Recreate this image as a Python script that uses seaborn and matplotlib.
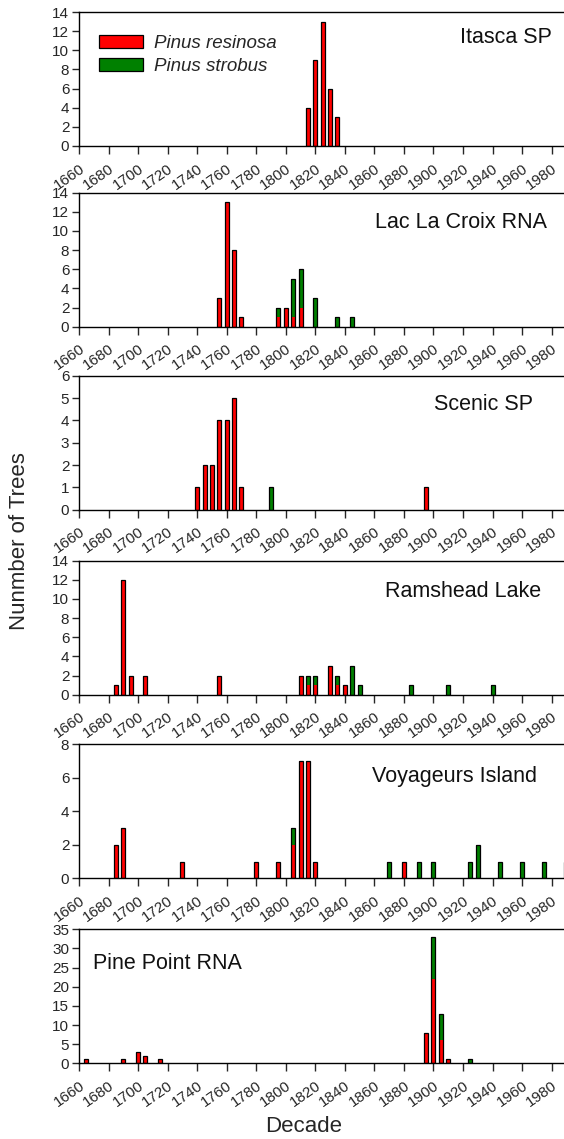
import numpy as np
import pandas as pd
import matplotlib
matplotlib.use("Agg")
import matplotlib.pyplot as plt
import matplotlib.transforms as mtransforms
import seaborn as sns
from matplotlib.patches import Patch

# data: 5-year bins, counts of trees per species
SITES = ["Itasca SP", "Lac La Croix RNA", "Scenic SP", "Ramshead Lake",
         "Voyageurs Island", "Pine Point RNA"]

itasca_years = [1815, 1820, 1825, 1830, 1835]
itasca_res = [4, 9, 13, 6, 3]
itasca_str = [0, 0, 0, 0, 0]

lacroix_years = [1755, 1760, 1765, 1770, 1795, 1800, 1805, 1810, 1820, 1835, 1845]
lacroix_res = [3, 13, 8, 1, 1, 2, 1, 2, 0, 0, 0]
lacroix_str = [0, 0, 0, 0, 1, 0, 4, 4, 3, 1, 1]

scenic_years = [1740, 1745, 1750, 1755, 1760, 1765, 1770, 1790, 1895]
scenic_res = [1, 2, 2, 4, 4, 5, 1, 0, 1]
scenic_str = [0, 0, 0, 0, 0, 0, 0, 1, 0]

ramshead_years = [1685, 1690, 1695, 1705, 1755, 1810, 1815, 1820, 1830, 1835,
                  1840, 1845, 1850, 1885, 1910, 1940]
ramshead_res = [1, 12, 2, 2, 2, 2, 1, 1, 3, 1, 1, 0, 0, 0, 0, 0]
ramshead_str = [0, 0, 0, 0, 0, 0, 1, 1, 0, 1, 0, 3, 1, 1, 1, 1]

voyageurs_years = [1685, 1690, 1730, 1780, 1795, 1805, 1810, 1815, 1820, 1870,
                   1880, 1890, 1900, 1925, 1930, 1945, 1960, 1975, 1990]
voyageurs_res = [2, 3, 1, 1, 1, 2, 7, 7, 1, 0, 1, 0, 0, 0, 0, 0, 0, 0, 0]
voyageurs_str = [0, 0, 0, 0, 0, 1, 0, 0, 0, 1, 0, 1, 1, 1, 2, 1, 1, 1, 1]

pine_years = [1665, 1690, 1700, 1705, 1715, 1895, 1900, 1905, 1910, 1925]
pine_res = [1, 1, 3, 2, 1, 8, 22, 6, 1, 0]
pine_str = [0, 0, 0, 0, 0, 0, 11, 7, 0, 1]

YMAX = [14, 14, 6, 14, 8, 35]
YSTEP = [2, 2, 1, 2, 2, 5]
XTICKS = list(range(1660, 1981, 20))

panels = [
    (itasca_years, itasca_res, itasca_str),
    (lacroix_years, lacroix_res, lacroix_str),
    (scenic_years, scenic_res, scenic_str),
    (ramshead_years, ramshead_res, ramshead_str),
    (voyageurs_years, voyageurs_res, voyageurs_str),
    (pine_years, pine_res, pine_str),
]

RED = "#ff0000"
GREEN = "#008000"

sns.set_style("ticks")
plt.rcParams["font.family"] = ["Liberation Sans", "DejaVu Sans"]

W, H = 564, 1139
fig = plt.figure(figsize=(W / 100, H / 100), dpi=100)

tops = [12, 192.7, 375.7, 560.7, 744.3, 929.3]
ax_h = 134
ax_left = 79
px_per_year = 1.477
ax_w = (1990 - 1660) * px_per_year
bins = [float(b) for b in np.arange(1657.5, 1995, 5)]

# label placement (axes fraction), x anchor and alignment
title_pos = [(0.970, 0.813, "right"), (0.960, 0.776, "right"), (0.931, 0.784, "right"),
             (0.949, 0.769, "right"), (0.940, 0.761, "right"), (0.029, 0.746, "left")]

shift = mtransforms.ScaledTranslation(4 / 100, 0, fig.dpi_scale_trans)

for i, (years, res, strb) in enumerate(panels):
    ax = fig.add_axes([ax_left / W, 1 - (tops[i] + ax_h) / H, ax_w / W, ax_h / H])
    df = pd.DataFrame({"year": years, "res": res, "str": strb})
    df["total"] = df["res"] + df["str"]

    # total (green) under, red overlaid, then outline on top
    sns.histplot(data=df, x="year", weights="total", bins=bins, shrink=0.54,
                 color=GREEN, alpha=1, linewidth=0, ax=ax)
    sns.histplot(data=df, x="year", weights="res", bins=bins, shrink=0.54,
                 color=RED, alpha=1, linewidth=0, ax=ax)
    sns.histplot(data=df, x="year", weights="total", bins=bins, shrink=0.54,
                 fill=False, element="bars", color="black", linewidth=0.9, ax=ax)
    # empty bins leave flat rectangles on the baseline
    for p in list(ax.patches):
        if p.get_height() == 0:
            p.remove()

    ax.set_xlim(1660, 1990)
    ax.set_ylim(0, YMAX[i])
    ax.set_yticks(np.arange(0, YMAX[i] + 0.1, YSTEP[i]))
    ax.set_xticks(XTICKS)
    ax.set_xticklabels([str(t) for t in XTICKS], rotation=35, ha="right",
                       va="top", rotation_mode="anchor", fontsize=11)
    for lab in ax.get_xticklabels():
        lab.set_transform(lab.get_transform() + shift)
    ax.tick_params(axis="y", labelsize=11, length=5, width=1, direction="out", pad=2)
    ax.tick_params(axis="x", length=6, width=1, direction="out", pad=5)
    ax.set_xlabel("")
    ax.set_ylabel("")
    for s in ["left", "bottom", "top"]:
        ax.spines[s].set_visible(True)
        ax.spines[s].set_color("black")
        ax.spines[s].set_linewidth(1)
    ax.spines["right"].set_visible(False)

    tx, ty, ha = title_pos[i]
    ax.text(tx, ty, SITES[i], transform=ax.transAxes, ha=ha, va="center",
            fontsize=15.5, color="#111111")

    if i == 0:
        handles = [Patch(facecolor=RED, edgecolor="black", linewidth=0.9),
                   Patch(facecolor=GREEN, edgecolor="black", linewidth=0.9)]
        ax.legend(handles, ["Pinus resinosa", "Pinus strobus"], loc="upper left",
                  bbox_to_anchor=(0.041, 0.83), frameon=False, borderpad=0,
                  borderaxespad=0, handlelength=2.35, handleheight=0.7,
                  handletextpad=0.6, labelspacing=0.3,
                  prop={"style": "italic", "size": 13.5})

fig.text(20 / W, 1 - 541 / H, "Nunmber of Trees", rotation=90, ha="center",
         va="center", fontsize=16)
fig.text(304 / W, 1 - 1127 / H, "Decade", ha="center", va="center", fontsize=16)

fig.savefig("out.png", dpi=100)
